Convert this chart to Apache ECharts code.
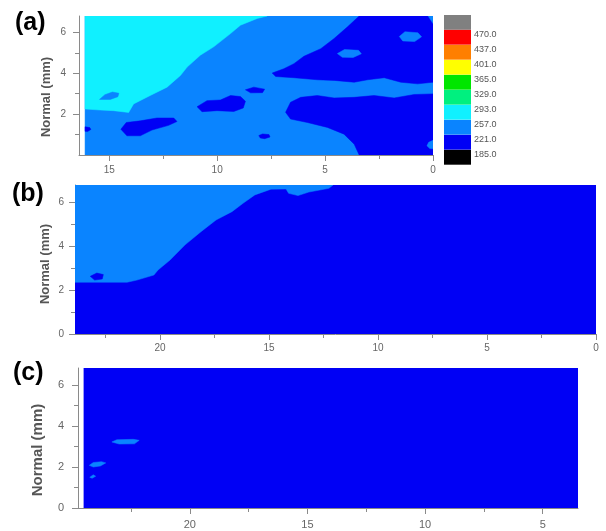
<!DOCTYPE html>
<html>
<head>
<meta charset="utf-8">
<script src="https://cdn.jsdelivr.net/npm/echarts@6/dist/echarts.min.js"></script>
<style>
  html, body { margin: 0; padding: 0; background: #fff; }
  #chart { width: 606px; height: 531px; }
</style>
</head>
<body>
<div id="chart"></div>
<script>
// hardness level of each zone (value used for colour lookup)
const SZ = 275
const HAZ = 239
const BM = 203

// colour scale breaks and colours (bottom to top)
const scaleBreaks = [185, 221, 257, 293, 329, 365, 401, 437, 470]
const scaleColors = ['#000000', '#0000f5', '#0a84ff', '#10f0ff', '#00f07f', '#00e600', '#ffff00', '#ff7f00', '#ff0000', '#808080']

// panel (a): region outlines, [transverse mm, normal mm]
const aBase = [[16.12, 0], [0, 0], [0, 6.8], [16.12, 6.8]]
const aSZ = [[16.12, 6.8], [7.68, 6.8], [8.14, 6.68], [8.92, 6.35], [9.38, 5.94], [10.16, 5.29], [10.78, 4.88],
  [11.39, 4.3], [11.7, 3.89], [12.32, 3.32], [13.1, 2.91], [13.87, 2.5], [14.1, 2.08], [14.8, 2.17], [15.42, 2.2], [16.12, 2.25]]
const aSZIsle = [[15.45, 2.72], [15.2, 2.95], [14.85, 3.08], [14.55, 3.02], [14.6, 2.85], [14.95, 2.72]]
const aBMUpper = [[3.42, 6.8], [0.25, 6.8], [0, 6.4], [0, 3.56], [0.71, 3.48], [1.49, 3.56], [2.26, 3.78], [3.03, 3.68],
  [3.65, 3.56], [4.58, 3.65], [5.36, 3.68], [6.44, 3.78], [7.29, 3.84], [7.45, 4.01], [6.91, 4.22], [6.44, 4.47],
  [5.98, 4.83], [5.2, 5.2], [4.58, 5.7], [3.96, 6.27]]
const aIsle1 = [[1.56, 5.8], [1.3, 6.03], [0.7, 5.98], [0.53, 5.78], [0.85, 5.55], [1.4, 5.58]]
const aIsle2 = [[4.43, 4.96], [4.1, 5.16], [3.45, 5.12], [3.32, 4.95], [3.7, 4.77], [4.2, 4.78]]
const aBMLower = [[0, 2.99], [0, 0], [3.42, 0], [3.65, 0.53], [4.12, 1.02], [4.89, 1.35], [5.82, 1.59], [6.6, 1.76],
  [6.83, 2.09], [6.6, 2.58], [6.13, 2.82], [5.36, 2.91], [4.58, 2.79], [3.65, 2.82], [2.73, 2.91], [1.8, 2.79], [0.87, 2.96]]
const aIsle3 = [[0, 0.72], [0.2, 0.62], [0.28, 0.45], [0.15, 0.32], [0, 0.3]]
const aBlob1 = [[10.93, 2.36], [10.47, 2.66], [9.85, 2.69], [9.38, 2.91], [8.92, 2.86], [8.69, 2.63], [8.79, 2.3],
  [9.23, 2.13], [10.0, 2.17], [10.7, 2.12]]
const aBlob2 = [[8.69, 3.19], [8.3, 3.32], [7.8, 3.22], [7.9, 3.05], [8.45, 3.04]]
const aBlob3 = [[14.46, 1.26], [14.21, 1.59], [13.56, 1.67], [12.79, 1.81], [12.01, 1.81], [11.86, 1.64], [12.25, 1.45],
  [13.02, 1.22], [13.56, 0.94], [14.18, 0.94]]
const aBlob4 = [[16.12, 1.38], [15.9, 1.34], [15.85, 1.25], [16.0, 1.15], [16.12, 1.16]]
const aBlob5 = [[8.07, 0.95], [7.9, 1.03], [7.6, 1.0], [7.55, 0.88], [7.8, 0.8], [8.0, 0.83]]

// panel (b)
const bBase = [[23.9, 0], [0, 0], [0, 6.77], [23.9, 6.77]]
const bHAZ = [[23.9, 6.77], [12.06, 6.77], [12.25, 6.62], [13.17, 6.45], [13.67, 6.29], [14.1, 6.39], [14.22, 6.59],
  [14.91, 6.58], [15.65, 6.32], [16.19, 5.94], [16.7, 5.56], [17.43, 5.18], [18.12, 4.65], [18.85, 4.05], [19.54, 3.36],
  [20.09, 2.91], [20.28, 2.68], [21.06, 2.45], [21.51, 2.35], [23.9, 2.35]]
const bSpot = [[23.2, 2.62], [22.9, 2.77], [22.6, 2.7], [22.65, 2.5], [23.0, 2.45]]

// panel (c)
const cBase = [[24.5, 0], [3.5, 0], [3.5, 6.83], [24.5, 6.83]]
const cStreak1 = [[23.31, 3.22], [23.1, 3.33], [22.4, 3.35], [22.15, 3.3], [22.35, 3.13], [23.0, 3.12]]
const cStreak2 = [[24.27, 2.08], [24.1, 2.22], [23.75, 2.26], [23.57, 2.2], [23.8, 2.05], [24.1, 2.0]]
const cSpeck = [[24.25, 1.5], [24.1, 1.62], [24.0, 1.55], [24.15, 1.45]]

const panelA = [[aBase, HAZ], [aSZ, SZ], [aSZIsle, HAZ], [aBMUpper, BM], [aIsle1, HAZ], [aIsle2, HAZ],
  [aBMLower, BM], [aIsle3, HAZ], [aBlob1, BM], [aBlob2, BM], [aBlob3, BM], [aBlob4, BM], [aBlob5, BM]]
const panelB = [[bBase, BM], [bHAZ, HAZ], [bSpot, BM]]
const panelC = [[cBase, BM], [cStreak1, HAZ], [cStreak2, HAZ], [cSpeck, HAZ]]

const axisGray = '#8a8a8a'
const labelGray = '#666'

function axisPair (dim, gridIndex, min, max, inverse, major, labels, minor, fontSize, margin) {
  const base = {
    type: 'value',
    gridIndex: gridIndex,
    position: dim === 'x' ? 'bottom' : 'left',
    offset: 0,
    min: min,
    max: max,
    inverse: inverse,
    splitLine: { show: false },
    minorTick: { show: false }
  }
  return [
    Object.assign({}, base, {
      axisLine: { show: true, onZero: false, lineStyle: { color: axisGray, width: 1 } },
      axisTick: { show: true, customValues: major, length: 6, lineStyle: { color: axisGray } },
      axisLabel: { show: true, customValues: labels, margin: margin, color: labelGray, fontSize: fontSize, fontFamily: 'Arial' }
    }),
    Object.assign({}, base, {
      axisLine: { show: false, onZero: false },
      axisTick: { show: true, customValues: minor, length: 4, lineStyle: { color: axisGray } },
      axisLabel: { show: false }
    })
  ]
}

function regionSeries (regions, axisIndex) {
  return {
    type: 'custom',
    xAxisIndex: axisIndex,
    yAxisIndex: axisIndex,
    clip: true,
    silent: true,
    data: regions.map(function (r, i) { return [i, r[1]] }),
    renderItem: function (params, api) {
      const pts = regions[api.value(0)][0].map(function (p) { return api.coord(p) })
      const c = api.visual('color')
      return {
        type: 'polygon',
        shape: { points: pts },
        style: { fill: c, stroke: c, lineWidth: 0.5 }
      }
    }
  }
}

// each break label sits near the top of its box (bottom padding lifts it)
const pieces = scaleColors.map(function (color, i) {
  const piece = { color: color }
  if (i > 0) piece.min = scaleBreaks[i - 1]
  if (i < scaleBreaks.length) {
    piece.max = scaleBreaks[i]
    piece.label = '{t|' + scaleBreaks[i].toFixed(1) + '}'
  } else {
    piece.label = ' '
  }
  return piece
})

function tag (text, x, y, font, color, rotate) {
  return {
    type: 'text',
    x: x,
    y: y,
    rotation: rotate ? Math.PI / 2 : 0,
    style: { text: text, font: font, fill: color, align: rotate ? 'center' : 'left', verticalAlign: 'middle' }
  }
}

const chart = echarts.init(document.getElementById('chart'), null, { renderer: 'canvas' })
chart.setOption({
  animation: false,
  backgroundColor: '#fff',
  grid: [
    { left: 79, top: 16, width: 354, height: 139 },
    { left: 75, top: 185, width: 521, height: 149 },
    { left: 78, top: 368, width: 500, height: 140 }
  ],
  xAxis: [].concat(
    axisPair('x', 0, 0, 16.4, true, [0, 5, 10, 15], [0, 5, 10, 15], [2.5, 7.5, 12.5], 10, 10),
    axisPair('x', 1, 0, 23.9, true, [0, 5, 10, 15, 20], [0, 5, 10, 15, 20], [2.5, 7.5, 12.5, 17.5, 22.5], 10, 9),
    axisPair('x', 2, 3.5, 24.75, true, [5, 10, 15, 20], [5, 10, 15, 20], [7.5, 12.5, 17.5, 22.5], 11, 11)
  ),
  yAxis: [].concat(
    axisPair('y', 0, 0, 6.8, false, [2, 4, 6], [2, 4, 6], [1, 3, 5], 10, 13),
    axisPair('y', 1, 0, 6.77, false, [0, 2, 4, 6], [0, 2, 4, 6], [1, 3, 5], 10, 11),
    axisPair('y', 2, 0, 6.83, false, [0, 2, 4, 6], [0, 2, 4, 6], [1, 3, 5], 11, 14)
  ),
  visualMap: {
    type: 'piecewise',
    dimension: 1,
    seriesIndex: [0, 1, 2],
    pieces: pieces,
    orient: 'vertical',
    left: 444,
    top: 15,
    padding: 0,
    itemWidth: 27,
    itemHeight: 14.8,
    itemGap: 0,
    itemSymbol: 'rect',
    align: 'left',
    textGap: 3,
    selectedMode: false,
    hoverLink: false,
    textStyle: {
      color: '#555',
      fontSize: 9,
      fontFamily: 'Arial',
      rich: { t: { color: '#555', fontSize: 9, fontFamily: 'Arial', lineHeight: 8, padding: [0, 0, 6, 0] } }
    }
  },
  series: [
    regionSeries(panelA, 0),
    regionSeries(panelB, 2),
    regionSeries(panelC, 4)
  ],
  graphic: [
    tag('(a)', 15, 23, 'bold 25px Arial', '#000'),
    tag('(b)', 12, 194, 'bold 25px Arial', '#000'),
    tag('(c)', 13, 373, 'bold 25px Arial', '#000'),
    tag('Normal (mm)', 46, 97, 'bold 13px Arial', '#555', true),
    tag('Normal (mm)', 45, 264, 'bold 13px Arial', '#555', true),
    tag('Normal (mm)', 38, 450, 'bold 15px Arial', '#555', true),
    tag('SZ', 97, 37, '22px Arial', '#000'),
    tag('HAZ', 228, 54, '22px Arial', '#fff'),
    tag('BM', 380, 120, '22px Arial', '#fff'),
    tag('SZ', 96, 217, '22px Arial', '#000'),
    tag('HAZ', 180, 250, '22px Arial', '#fff'),
    tag('BM', 524, 302, '22px Arial', '#fff'),
    tag('BM', 509, 471, '22px Arial', '#fff')
  ]
})
</script>
</body>
</html>
